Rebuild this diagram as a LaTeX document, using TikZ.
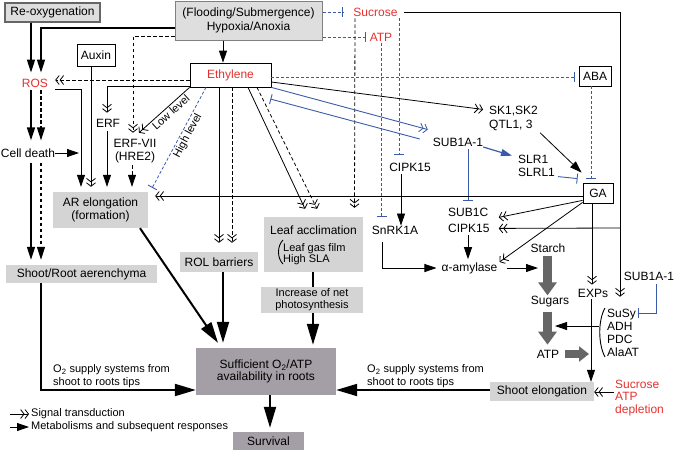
\documentclass[tikz,border=0pt]{standalone}
\usepackage{fontspec}
\setmainfont{Liberation Sans}
\usetikzlibrary{arrows.meta,calc}
\definecolor{myblue}{HTML}{3A5BA8}
\definecolor{myred}{HTML}{E5312E}
\definecolor{lgray}{HTML}{D4D4D4}
\definecolor{fgray}{HTML}{DEDEDE}
\definecolor{bgray}{HTML}{808080}
\definecolor{dgray}{HTML}{A49FA6}
\definecolor{agray}{HTML}{666666}
\begin{document}
\begin{tikzpicture}[x=1pt,y=-1pt,
  every node/.style={font=\fontsize{12}{13.5}\selectfont, inner sep=0pt, align=center},
  sm/.style={font=\fontsize{11}{13}\selectfont},
  box/.style={draw, line width=0.8pt, fill=white},
  gbox/.style={fill=lgray},
  dbox/.style={fill=dgray},
  ln/.style={line width=0.8pt},
  dsh/.style={line width=0.8pt, dash pattern=on 3.5pt off 2.5pt},
  bdsh/.style={line width=0.8pt, dash pattern=on 3pt off 2pt, myblue},
  sig/.style={-{Straight Barb[length=3.5pt,width=9pt,line width=0.8pt]Straight Barb[length=3.5pt,width=9pt,line width=0.8pt]}},
  met/.style={-{Triangle[length=12pt,width=8pt]}},
  farr/.style={line width=1.5pt,-{Triangle[length=13pt,width=8pt]}},
  bigm/.style={line width=2pt,-{Triangle[length=21pt,width=12pt]}},
  inh/.style={-{Bar[width=10pt,line width=0.9pt]}},
  garr/.style={agray, line width=9pt, -{Triangle[length=13pt,width=18pt]}},
]
\useasboundingbox (0,0) rectangle (675,451);

% ---------- nodes ----------
\node[draw=bgray!80!black, line width=1.3pt, fill=fgray, minimum width=95pt, minimum height=19pt] (reox) at (52.5,12.5) {Re-oxygenation};
\node[draw=bgray, line width=1pt, fill=fgray, minimum width=147pt, minimum height=39pt] (flood) at (248.5,20.5) {(Flooding/Submergence)\\Hypoxia/Anoxia};
\node[text=myred] (suc) at (375.5,12) {Sucrose};
\node[text=myred] (atp) at (381,37) {ATP};
\node[box, text=myred, minimum width=81pt, minimum height=24pt] (eth) at (230.5,75) {Ethylene};
\node[box, minimum width=38pt, minimum height=22pt] (aux) at (96,55) {Auxin};
\node[box, minimum width=32pt, minimum height=20pt] (aba) at (595,76) {ABA};
\node[text=myred] (ros) at (35,83) {ROS};
\node (erf) at (108,123) {ERF};
\node[anchor=north] (erfvii) at (135,138.7) {ERF-VII\\(HRE2)};
\node (cd) at (28,153) {Cell death};
\node[align=left, anchor=north west, font=\fontsize{12}{14}\selectfont] (sk) at (489,105.7) {SK1,SK2\\QTL1, 3};
\node (sub1a) at (458,142) {SUB1A-1};
\node[align=left, anchor=north west, font=\fontsize{12}{13}\selectfont] (slr) at (518,154.7) {SLR1\\SLRL1};
\node (cipk) at (410,167) {CIPK15};
\node[box, minimum width=30pt, minimum height=20pt] (ga) at (598,193) {GA};
\node[align=left, anchor=north west, font=\fontsize{12}{16.5}\selectfont] (sub1c) at (448,207.7) {SUB1C\\CIPK15};
\node (snrk) at (395,230) {SnRK1A};
\node (amyl) at (469.5,268) {α-amylase};
\node (starch) at (548,248) {Starch};
\node (sugars) at (550,302) {Sugars};
\node (atp2) at (548,354) {ATP};
\node (exps) at (593,293) {EXPs};
\node (sub1a2) at (649,276) {SUB1A-1};
\node[align=left, anchor=north west, font=\fontsize{12}{13}\selectfont] (enz) at (607,308.7) {SuSy\\ADH\\PDC\\AlaAT};
\node[text=myred, align=left, anchor=north west, font=\fontsize{12}{12.5}\selectfont] (depl) at (615,379.7) {Sucrose\\ATP\\depletion};

\node[gbox, minimum width=95pt, minimum height=36pt] (ar) at (100.5,210) {AR elongation\\(formation)};
\node[gbox, minimum width=78pt, minimum height=20pt] (rol) at (219,262) {ROL barriers};
\node[gbox, minimum width=99pt, minimum height=55pt] (leaf) at (313.5,244.5) {};
\node (leaft) at (313.5,230) {Leaf acclimation};
\node[sm, align=left, anchor=north west, font=\fontsize{11}{11.5}\selectfont] (leafs) at (283,243) {Leaf gas film\\High SLA};
\node[gbox, minimum width=102pt, minimum height=26pt, font=\fontsize{11}{12}\selectfont] (incr) at (312,300) {Increase of net\\photosynthesis};
\node[gbox, minimum width=151pt, minimum height=18pt] (aer) at (81.5,274) {Shoot/Root aerenchyma};
\node[dbox, minimum width=140pt, minimum height=47pt, font=\fontsize{12}{12.5}\selectfont] (suff) at (266,371.5) {Sufficient O\textsubscript{2}/ATP\\availability in roots};
\node[dbox, minimum width=71pt, minimum height=18pt] (surv) at (268.5,441) {Survival};
\node[gbox, minimum width=104pt, minimum height=19pt] (shootel) at (542,391.5) {Shoot elongation};

\node[sm, align=left, anchor=north west] (o2a) at (53,364.5) {O\textsubscript{2} supply systems from\\shoot to roots tips};
\node[sm, align=left, anchor=north west] (o2b) at (367,364.5) {O\textsubscript{2} supply systems from\\shoot to roots tips};

% parentheses
\draw[line width=0.9pt] (283,240) .. controls (277,246) and (277,258) .. (283,264);
\draw[line width=0.9pt] (605,308) .. controls (598,320) and (598,344) .. (605,357);

% ---------- connectors ----------
% top-left
\draw[farr, shorten >=6pt] (reox.south -| 31,0) -- (ros.north -| 31,0);
\draw[farr, shorten >=6pt] (flood.west |- 0,28) -| (ros.north -| 41,0);
\draw[dsh, sig, shorten >=6pt] (flood.west |- 0,36) -| (erfvii.north -| 133,0);
\draw[ln, met] (flood.south -| 223,0) -- (eth.north -| 223,0);
\draw[bdsh, inh, shorten >=10pt] (flood.east |- 0,12) -- (suc.west |- 0,12);
\draw[bdsh, inh, shorten >=4pt] (flood.east |- 0,37) -- (atp.west |- 0,37);

% sucrose
\draw[ln, sig, shorten <=6pt, shorten >=12pt] (suc.east) -| (enz.north -| 620,0);
\coordinate (br) at (620,228);
\draw[ln, sig] (br) -- ([xshift=9pt,yshift=-8pt]sub1c.east);
\draw[dsh, sig, shorten <=2pt] (suc.south -| 355,0) -- ($(leaf.north)+(41,-9)$);
\draw[bdsh, inh, shorten <=2pt, shorten >=7.5pt] (suc.south -| 399,0) -- (cipk.north -| 399,0);
\draw[bdsh, inh, shorten <=2pt, shorten >=9pt] (atp.south -| 381.5,0) -- (snrk.north -| 381.5,0);

% ethylene left
\draw[dsh, sig, shorten >=7pt] (eth.west |- 0,80) -- (ros.east |- 0,80);
\draw[ln, sig, shorten >=6pt] (eth.west |- 0,86) -| (erf.north -| 107,0);
\draw[ln, sig] (eth.south west) -- ([xshift=4pt,yshift=6pt]erfvii.north)
  node[pos=0.45, sloped, below=1.5pt, sm] (lowl) {Low level};
\draw[bdsh, inh] (eth.south -| 206,0) -- ([xshift=4pt,yshift=4pt]ar.north east)
  node[pos=0.45, sloped, below=1.5pt, sm, text=black] (highl) {High level};

% into AR elongation
\draw[ln, sig, shorten >=5pt] (aux.south -| 91,0) -- (ar.north -| 91,0);
\draw[ln, met, shorten <=4pt, shorten >=5pt] (erf.south -| 107,0) -- (ar.north -| 107,0);
\draw[dsh, met, shorten <=2pt, shorten >=5pt] (erfvii.south -| 132,0) -- (ar.north -| 132,0);
\draw[ln, met, shorten >=5pt] ([xshift=7pt,yshift=-6pt]ros.east) -| (ar.north -| 81,0);
\coordinate (cdt) at (79,153);
\draw[ln, met] (cd.east) -- (cdt);

% ROS / cell death / aerenchyma
\draw[farr, shorten <=3pt, shorten >=8pt] (ros.south -| 31,0) -- (cd.north -| 31,0);
\draw[farr, line width=1.2pt, dash pattern=on 3.5pt off 2.5pt, shorten <=3pt, shorten >=8pt] (ros.south -| 41,0) -- (cd.north -| 41,0);
\draw[farr, shorten <=5pt, shorten >=5pt] (cd.south -| 31,0) -- (aer.north -| 31,0);
\draw[farr, line width=1.2pt, dash pattern=on 3.5pt off 2.5pt, shorten <=5pt, shorten >=5pt] (cd.south -| 41,0) -- (aer.north -| 41,0);

% ethylene down
\draw[ln, sig, shorten >=9pt] (eth.south -| 219,0) -- (rol.north -| 219,0);
\draw[dsh, sig, shorten >=9pt] (eth.south -| 232,0) -- (rol.north -| 232,0);
\draw[ln, sig] (eth.south -| 248,0) -- ($(leaf.north)+(-8.5,-8)$);
\draw[dsh, sig] (eth.south -| 257,0) -- ($(leaf.north)+(3.5,-8)$);

% ethylene right
\draw[ln, sig, shorten >=6pt] (eth.east |- 0,82) -- ([yshift=8pt]sk.west);
\draw[bdsh, inh, shorten >=4pt] (eth.east |- 0,77) -- (aba.west |- 0,77);
\draw[myblue, line width=0.9pt, sig] (eth.south east) -- ([xshift=-5pt,yshift=8pt]sub1a.north west);
\draw[myblue, line width=0.9pt, inh] ([xshift=-13pt,yshift=3pt]sub1a.west) -- ([xshift=-1pt,yshift=-24pt]eth.east);

% GA region
\draw[bdsh, inh, shorten >=4pt] (aba.south -| 591,0) -- (ga.north -| 591,0);
\draw[ln, met] ([xshift=2pt,yshift=-2pt]sk.south east) -- ([xshift=-1pt,yshift=10pt]ga.north west);
\draw[myblue, line width=1.2pt, -{Triangle[length=11pt,width=7pt]}] ([yshift=-5pt]sub1a.east) -- ([xshift=-6pt,yshift=-1pt]slr.north west);
\draw[myblue, line width=0.9pt, inh] ([xshift=3pt]slr.south east) -- ([xshift=-5pt,yshift=4pt]ga.north west);
\draw[myblue, line width=0.9pt, inh, shorten <=3pt, shorten >=7pt] (sub1a.south -| 468,0) -- (sub1c.north -| 468,0);
\draw[ln, sig, shorten >=7pt] (ga.west |- 0,196) -- (ar.east |- 0,196);
\draw[ln, sig] ([yshift=3pt]ga.south west) -- ([xshift=9pt,yshift=3pt]sub1c.east);
\draw[ln, sig] ([yshift=1pt]ga.south west) -- ([xshift=2pt,yshift=6pt]amyl.east);
\draw[ln, sig, shorten >=4pt] (ga.south -| 592,0) -- (exps.north -| 592,0);
\draw[ln, met, shorten <=2pt] (exps.south -| 591,0) -- (shootel.north -| 591,0);

% kinases / amylase
\draw[ln, met, shorten <=2pt, shorten >=3pt] (sub1c.south -| 468,0) -- (amyl.north -| 468,0);
\draw[ln, met, shorten <=3pt] (cipk.south -| 401,0) -- (snrk.north -| 401,0);
\draw[ln, met, shorten <=8pt, shorten >=5pt] (snrk.south -| 382,0) |- (amyl.west);
\coordinate (sa) at (538,268);
\draw[ln, met, shorten <=9pt] (amyl.east) -- (sa);

% gray metabolic arrows
\draw[garr, shorten <=3pt, shorten >=1pt] (starch.south -| 547.5,0) -- (sugars.north -| 547.5,0);
\draw[garr, shorten <=4pt, shorten >=5pt] (sugars.south -| 547.5,0) -- (atp2.north -| 547.5,0);
\coordinate (ga3) at (589,354);
\draw[agray, line width=8pt, -{Triangle[length=10pt,width=15pt]}, shorten <=6pt] (atp2.east) -- (ga3);
\coordinate (ep) at (599,326);
\coordinate (et) at (555,326);
\draw[ln, met] (ep) -- (et);

% SUB1A-1 right
\coordinate (susy) at (638,313);
\draw[myblue, line width=0.9pt, inh, shorten <=4pt] (sub1a2.south -| 656,0) |- (susy);
\draw[ln, sig, shorten <=1pt] (depl.west |- 0,392) -- (shootel.east |- 0,392);

% into sufficient
\draw[bigm] (shootel.west |- 0,390) -- (suff.east |- 0,390);
\draw[bigm] (aer.south -| 41,0) |- (suff.west |- 0,390);
\draw[bigm] (ar.south -| 140,0) -- ([xshift=-48pt,yshift=5pt]suff.north);
\draw[bigm, shorten >=5pt] (rol.south -| 223,0) -- (suff.north -| 223,0);
\draw[line width=1.2pt] (leaf.south -| 313,0) -- (incr.north -| 313,0);
\draw[bigm, shorten >=3pt] (incr.south -| 313,0) -- (suff.north -| 313,0);
\draw[bigm, shorten >=4pt] (suff.south -| 270,0) -- (surv.north -| 270,0);

% legend
\coordinate (l1a) at (10,414); \coordinate (l1b) at (29,414);
\draw[ln, sig] (l1a) -- (l1b);
\node[sm, anchor=west] (lg1) at (31,414) {Signal transduction};
\coordinate (l2a) at (10,427); \coordinate (l2b) at (29,427);
\draw[ln, met] (l2a) -- (l2b);
\node[sm, anchor=west] (lg2) at (31,427) {Metabolisms and subsequent responses};
\end{tikzpicture}
\end{document}
